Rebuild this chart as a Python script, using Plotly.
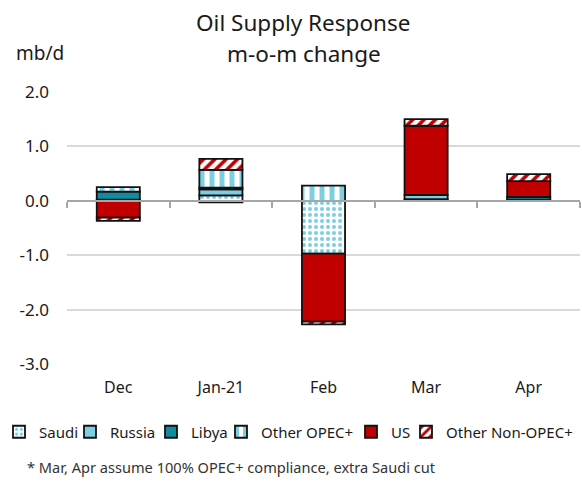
import plotly.graph_objects as go

categories = ["Dec", "Jan-21", "Feb", "Mar", "Apr"]
saudi = [0.0, 0.10, -0.97, 0.03, 0.0]
russia = [0.02, 0.11, 0.0, 0.08, 0.02]
libya = [0.15, 0.03, 0.0, 0.0, 0.05]
other_opec = [0.08, 0.33, 0.28, 0.0, 0.0]
us = [-0.31, -0.03, -1.25, 1.27, 0.29]
other_non_opec = [-0.06, 0.20, -0.05, 0.12, 0.13]
y_ticks = [2, 1, 0, -1, -2, -3]
y_tick_text = [f"{v:.1f}" for v in y_ticks]

LB = "#7ccfe1"
TEAL = "#138a9f"
RED = "#c00000"
FONT = "Noto Sans"

W, H, L, R, T, B = 582, 484, 67, 2, 92, 120
pw, ph = W - L - R, H - T - B


def px2paper(px, py):
    return (px - L) / pw, (H - B - py) / ph


series = [
    ("Saudi", saudi, dict(color="white", pattern=dict(shape=".", fgcolor=LB, bgcolor="white", size=6, solidity=0.35, fgopacity=1)), 12),
    ("Russia", russia, dict(color=LB), 83),
    ("Libya", libya, dict(color=TEAL), 164),
    ("Other OPEC+", other_opec, dict(color="white", pattern=dict(shape="|", fgcolor=LB, bgcolor="white", size=10, solidity=0.5, fgopacity=1)), 234),
    ("US", us, dict(color=RED), 364),
    ("Other Non-OPEC+", other_non_opec, dict(color="white", pattern=dict(shape="/", fgcolor=RED, bgcolor="white", size=8, solidity=0.45, fgopacity=1)), 419),
]

fig = go.Figure()
legend_layouts = {}
for i, (name, vals, mk, sym_x) in enumerate(series):
    mk = dict(mk)
    mk["line"] = dict(color="#111111", width=1.8)
    lname = "legend" if i == 0 else f"legend{i + 1}"
    fig.add_trace(go.Bar(x=categories, y=vals, name=name, marker=mk, width=0.42, legend=lname))
    lx, ly = px2paper(sym_x - 13, 432)
    legend_layouts[lname] = dict(orientation="h", x=lx, xanchor="left", y=ly, yanchor="middle",
                                 font=dict(size=15), itemwidth=30, bgcolor="rgba(0,0,0,0)")

# axis line at zero with category boundary ticks
fig.add_trace(go.Scatter(x=[-0.5, 4.5], y=[0, 0], xaxis="x2", mode="lines",
                         line=dict(color="rgba(0,0,0,0)"), showlegend=False, hoverinfo="skip"))

anns = []
for text, x, y, size, anchor, color in [
    ("Oil Supply Response", 303, 22, 22.5, "center", "#1a1a1a"),
    ("m-o-m change", 304, 53, 22.5, "center", "#1a1a1a"),
    ("mb/d", 40, 53, 19, "center", "#1a1a1a"),
    ("* Mar, Apr assume 100% OPEC+ compliance, extra Saudi cut", 25, 467, 14.6, "left", "#333333"),
]:
    ax, ay = px2paper(x, y)
    anns.append(dict(text=text, x=ax, y=ay, xref="paper", yref="paper", showarrow=False,
                     xanchor=anchor, yanchor="middle", font=dict(size=size, color=color)))

fig.update_layout(
    width=W, height=H,
    margin=dict(l=L, r=R, t=T, b=B, autoexpand=False),
    plot_bgcolor="white", paper_bgcolor="white",
    barmode="relative",
    font=dict(family=FONT, color="#1a1a1a", size=16),
    xaxis=dict(type="category", range=[-0.5, 4.5], showline=False, ticks="",
               tickfont=dict(size=16), showgrid=False, zeroline=False,
               ticklabelstandoff=12),
    xaxis2=dict(overlaying="x", anchor="free", position=0.6, range=[-0.5, 4.5],
                showline=True, linecolor="#a6a6a6", linewidth=2,
                ticks="outside", ticklen=6, tickwidth=2, tickcolor="#a6a6a6",
                tickvals=[-0.5, 0.5, 1.5, 2.5, 3.5, 4.5], showticklabels=False,
                showgrid=False, zeroline=False),
    yaxis=dict(range=[-3, 2], tickvals=y_ticks, ticktext=y_tick_text,
               showgrid=True, gridcolor="#d9d9d9", gridwidth=1.5,
               zeroline=False, showline=False, tickfont=dict(size=17),
               ticks="", ticklabelstandoff=17),
    showlegend=True,
    annotations=anns,
    **legend_layouts,
)

fig.write_html("out.html", post_script="document.body.style.margin='0';",
               config={"displayModeBar": False})
